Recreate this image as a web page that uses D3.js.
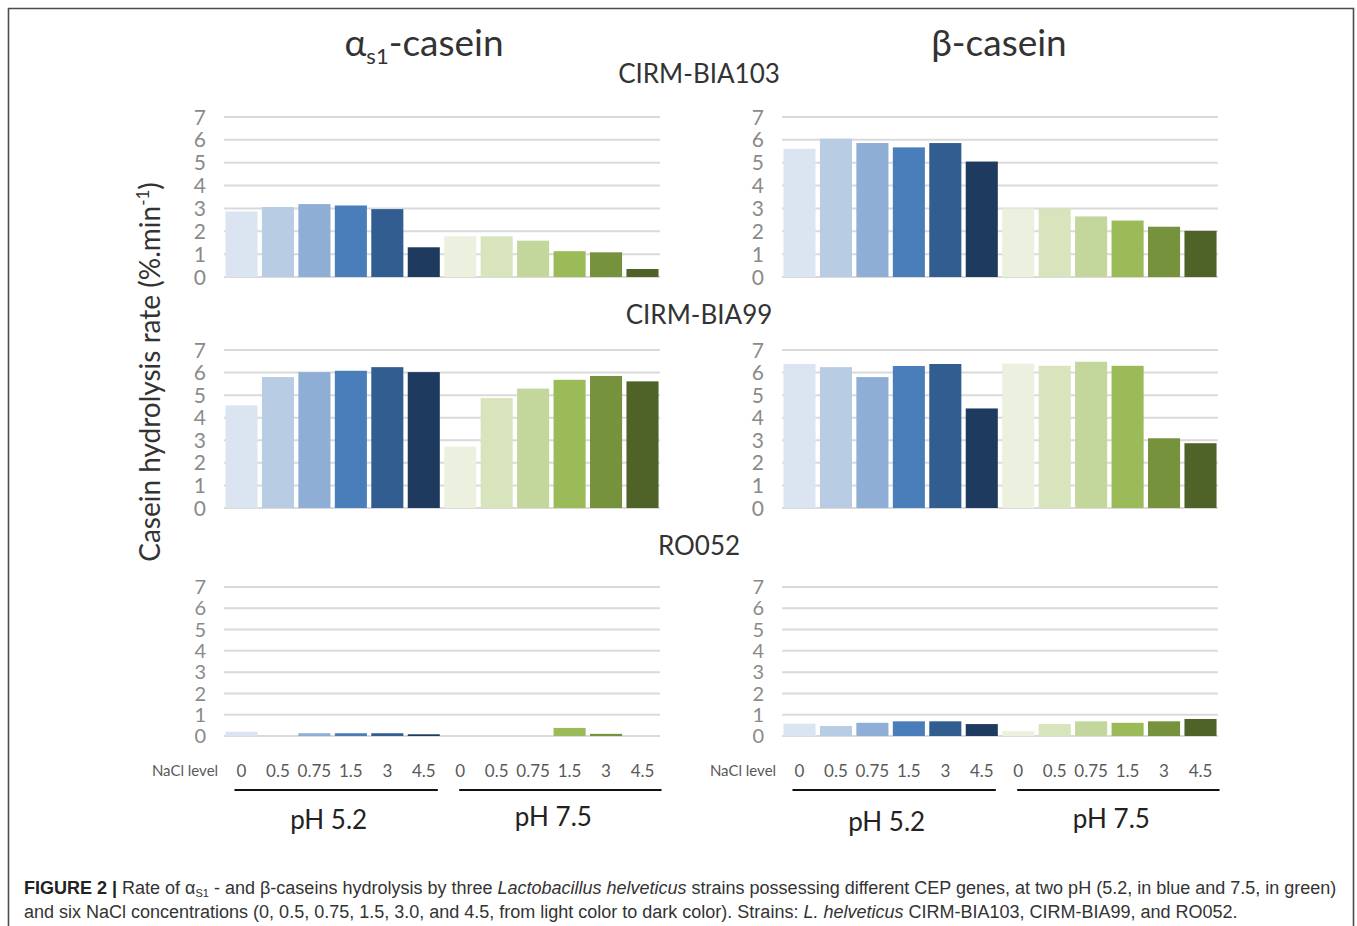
<!DOCTYPE html>
<html>
<head>
<meta charset="utf-8">
<script src="https://cdn.jsdelivr.net/npm/d3@7"></script>
<style>
  body { margin: 0; background: #fff; }
  svg { display: block; }
</style>
</head>
<body>
<svg id="chart" width="1357" height="926"></svg>
<script>
// NaCl levels (categories) and pH groups
const naclLevels = ["0", "0.5", "0.75", "1.5", "3", "4.5"];
const phGroups = ["pH 5.2", "pH 7.5"];
const strains = ["CIRM-BIA103", "CIRM-BIA99", "RO052"];
const yTicks = [0, 1, 2, 3, 4, 5, 6, 7];

// hydrolysis rates (%.min-1), pH 5.2 then pH 7.5, light -> dark NaCl
const alphaBIA103 = [2.87, 3.06, 3.19, 3.13, 2.97, 1.3, 1.78, 1.78, 1.59, 1.13, 1.08, 0.35];
const betaBIA103 = [5.61, 6.05, 5.86, 5.67, 5.86, 5.05, 3.0, 3.0, 2.65, 2.47, 2.2, 2.02];
const alphaBIA99 = [4.55, 5.8, 6.02, 6.08, 6.24, 6.02, 2.72, 4.87, 5.29, 5.68, 5.85, 5.61];
const betaBIA99 = [6.38, 6.24, 5.8, 6.29, 6.38, 4.41, 6.4, 6.3, 6.48, 6.3, 3.09, 2.87];
const alphaRO052 = [0.2, 0, 0.13, 0.13, 0.13, 0.08, 0, 0, 0, 0.38, 0.1, 0];
const betaRO052 = [0.58, 0.47, 0.62, 0.69, 0.69, 0.56, 0.23, 0.56, 0.69, 0.62, 0.69, 0.8];

const blues = ["#dbe5f1", "#b8cce4", "#8eaed6", "#4a7ebb", "#325d91", "#1f3a5f"];
const greens = ["#ebf1de", "#d7e4bc", "#c3d69b", "#9bbb59", "#76923c", "#4f6228"];

const svg = d3.select("#chart");
const chartFont = "Lato, 'Open Sans', sans-serif";

// figure frame (open at the bottom)
svg.append("path")
  .attr("d", "M8.5,926 V8.5 H1353.5 V926")
  .attr("fill", "none")
  .attr("stroke", "#4d4d4d")
  .attr("stroke-width", 1.6);

const cols = [[224, 660], [782, 1218]];
const rows = [[117, 277], [350, 508], [587, 736]];

const panels = [
  { col: 0, row: 0, values: alphaBIA103 },
  { col: 1, row: 0, values: betaBIA103 },
  { col: 0, row: 1, values: alphaBIA99 },
  { col: 1, row: 1, values: betaBIA99 },
  { col: 0, row: 2, values: alphaRO052 },
  { col: 1, row: 2, values: betaRO052 }
];

const keys = phGroups.flatMap(p => naclLevels.map(n => p + "|" + n));
const colorOf = i => (i < 6 ? blues[i] : greens[i - 6]);

// group underline offsets and label nudges (pH 5.2, pH 7.5)
const lineInset = [[9, -2], [15, 3]];
const labelNudge = [-4, 2];

panels.forEach(p => {
  const x = d3.scaleBand().domain(keys).range(cols[p.col]).paddingInner(0.12).paddingOuter(0.04);
  const y = d3.scaleLinear().domain([0, 7]).range([rows[p.row][1], rows[p.row][0]]);
  const g = svg.append("g");

  g.selectAll("line.grid").data(yTicks).join("line")
    .attr("x1", cols[p.col][0]).attr("x2", cols[p.col][1])
    .attr("y1", d => y(d)).attr("y2", d => y(d))
    .attr("stroke", "#dadada").attr("stroke-width", 2);

  g.selectAll("text.tick").data(yTicks).join("text")
    .attr("x", cols[p.col][0] - 18)
    .attr("y", d => y(d))
    .attr("dy", "0.36em")
    .attr("text-anchor", "end")
    .attr("font-family", chartFont)
    .attr("font-size", p.row === 2 ? 20 : 21)
    .attr("fill", "#8a8a8a")
    .text(d => d);

  g.selectAll("rect").data(p.values).join("rect")
    .attr("x", (d, i) => x(keys[i]))
    .attr("width", x.bandwidth())
    .attr("y", d => y(d))
    .attr("height", d => y(0) - y(d))
    .attr("fill", (d, i) => colorOf(i));

  if (p.row === 2) {
    g.selectAll("text.cat").data(keys).join("text")
      .attr("x", d => x(d) + x.bandwidth() / 2)
      .attr("y", 777)
      .attr("text-anchor", "middle")
      .attr("font-family", chartFont)
      .attr("font-size", 17)
      .attr("fill", "#595959")
      .text(d => d.split("|")[1]);

    g.append("text")
      .attr("x", cols[p.col][0] - 39)
      .attr("y", 776)
      .attr("text-anchor", "middle")
      .attr("font-family", chartFont)
      .attr("font-size", 15)
      .attr("fill", "#595959")
      .text("NaCl level");

    phGroups.forEach((ph, k) => {
      const first = x(ph + "|0"), last = x(ph + "|4.5") + x.bandwidth();
      g.append("line")
        .attr("x1", first + lineInset[k][0]).attr("x2", last + lineInset[k][1])
        .attr("y1", 790).attr("y2", 790)
        .attr("stroke", "#111").attr("stroke-width", 2);
      g.append("text")
        .attr("x", (first + last) / 2 + labelNudge[k])
        .attr("y", 829 - k * 3 + p.col * 2)
        .attr("text-anchor", "middle")
        .attr("font-family", chartFont)
        .attr("font-size", 26)
        .attr("fill", "#222")
        .text(ph);
    });
  }
});

// column titles
const alphaTitle = svg.append("text")
  .attr("x", 424).attr("y", 56)
  .attr("text-anchor", "middle")
  .attr("font-family", chartFont)
  .attr("font-size", 37)
  .attr("fill", "#333");
alphaTitle.append("tspan").text("α");
alphaTitle.append("tspan").attr("font-size", 22).attr("dy", 8).text("s1");
alphaTitle.append("tspan").attr("dy", -8).text("-casein");

svg.append("text")
  .attr("x", 999).attr("y", 56)
  .attr("text-anchor", "middle")
  .attr("font-family", chartFont)
  .attr("font-size", 37)
  .attr("fill", "#333")
  .text("β-casein");

// strain labels
const strainY = [83, 324, 555];
svg.selectAll("text.strain").data(strains).join("text")
  .attr("x", 699)
  .attr("y", (d, i) => strainY[i])
  .attr("text-anchor", "middle")
  .attr("font-family", chartFont)
  .attr("font-size", 26)
  .attr("fill", "#333")
  .text(d => d);

// y axis title
const yTitle = svg.append("text")
  .attr("transform", "translate(160,372) rotate(-90)")
  .attr("text-anchor", "middle")
  .attr("font-family", chartFont)
  .attr("font-size", 28)
  .attr("fill", "#333");
yTitle.append("tspan").text("Casein hydrolysis rate (%.min");
yTitle.append("tspan").attr("font-size", 17).attr("dy", -11).text("-1");
yTitle.append("tspan").attr("dy", 11).text(")");

// caption
const capFont = "'Liberation Sans', Arial, sans-serif";
const capSize = 18;
const cap1 = svg.append("text")
  .attr("x", 24).attr("y", 894)
  .attr("font-family", capFont)
  .attr("font-size", capSize)
  .attr("fill", "#333");
cap1.append("tspan").attr("font-weight", "bold").attr("fill", "#222").text("FIGURE 2 | ");
cap1.append("tspan").text("Rate of α");
cap1.append("tspan").attr("font-size", 11).attr("dy", 3).text("S1");
cap1.append("tspan").attr("dy", -3).text(" - and β-caseins hydrolysis by three ");
cap1.append("tspan").attr("font-style", "italic").text("Lactobacillus helveticus");
cap1.append("tspan").text(" strains possessing different CEP genes, at two pH (5.2, in blue and 7.5, in green)");

const cap2 = svg.append("text")
  .attr("x", 24).attr("y", 918)
  .attr("font-family", capFont)
  .attr("font-size", capSize)
  .attr("fill", "#333");
cap2.append("tspan").text("and six NaCl concentrations (0, 0.5, 0.75, 1.5, 3.0, and 4.5, from light color to dark color). Strains: ");
cap2.append("tspan").attr("font-style", "italic").text("L. helveticus");
cap2.append("tspan").text(" CIRM-BIA103, CIRM-BIA99, and RO052.");
</script>
</body>
</html>
